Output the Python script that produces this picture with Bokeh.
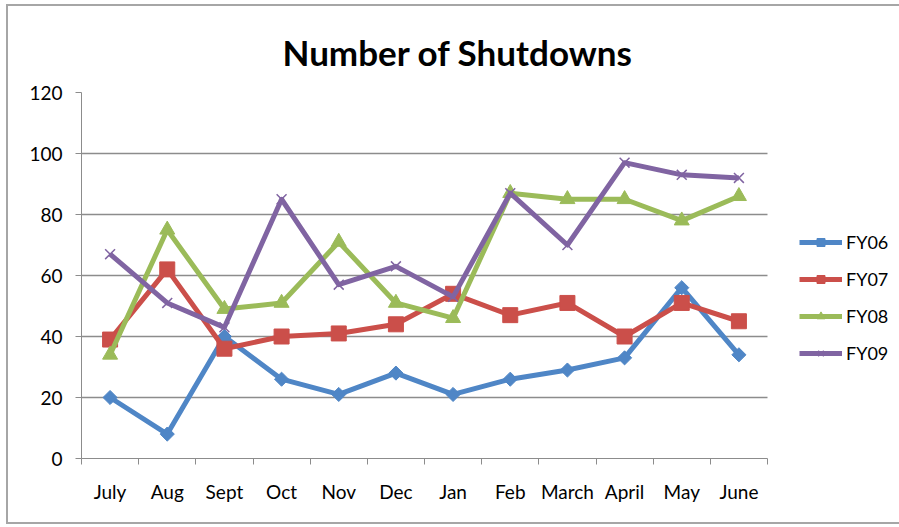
import math
from bokeh.plotting import figure
from bokeh.models import (Range1d, LinearAxis, FixedTicker, Legend,
                          LegendItem, Title, ColumnDataSource)
from bokeh.embed import file_html
from bokeh.resources import INLINE

months = ["July", "Aug", "Sept", "Oct", "Nov", "Dec", "Jan", "Feb", "March",
          "April", "May", "June"]
fy06 = [20, 8, 40, 26, 21, 28, 21, 26, 29, 33, 56, 34]
fy07 = [39, 62, 36, 40, 41, 44, 54, 47, 51, 40, 51, 45]
fy08 = [34, 75, 49, 51, 71, 51, 46, 87, 85, 85, 78, 86]
fy09 = [67, 51, 43, 85, 57, 63, 53, 87, 70, 97, 93, 92]
series_names = ["FY06", "FY07", "FY08", "FY09"]
y_ticks = [0, 20, 40, 60, 80, 100, 120]

FONT = "Lato"
GRID = "#8c8c8c"

n = len(months)
centers = [i + 0.5 for i in range(n)]
bounds = list(range(n + 1))

# plot area is 686px wide; the frame is extended to the right to hold the legend
PLOT_W = 686
FRAME_W = 817
x_end = n * FRAME_W / PLOT_W

src = ColumnDataSource(dict(x=centers, month=months, FY06=fy06, FY07=fy07,
                            FY08=fy08, FY09=fy09))

p = figure(frame_width=FRAME_W, frame_height=366, output_backend="svg",
           toolbar_location=None,
           x_range=Range1d(0, x_end), y_range=Range1d(0, 120),
           min_border_left=73, min_border_right=5, min_border_top=86,
           min_border_bottom=64, x_axis_location=None, y_axis_location=None)
p.outline_line_color = None
p.styles = {"border": "2px solid #a6a6a6", "margin-left": "6px", "margin-top": "4px"}

title = Title(text="Number of Shutdowns", align="left", offset=201,
              text_font=FONT, text_font_size="35px", text_font_style="bold",
              text_color="black", standoff=39)
p.add_layout(title, "above")

# y axis
yax = LinearAxis(ticker=FixedTicker(ticks=y_ticks))
yax.axis_line_color = GRID
yax.major_tick_line_color = GRID
yax.major_tick_out = 6
yax.major_tick_in = 0
yax.minor_tick_line_color = None
yax.major_label_text_font = FONT
yax.major_label_text_font_size = "19px"
yax.major_label_text_color = "black"
yax.major_label_standoff = 13
p.add_layout(yax, "left")

# x axis: labels at category centres, ticks at category boundaries
xax = LinearAxis(ticker=FixedTicker(ticks=centers, minor_ticks=bounds),
                 bounds=(0, n))
xax.major_label_overrides = {c: m for c, m in zip(centers, months)}
xax.axis_line_color = GRID
xax.major_tick_line_color = None
xax.major_tick_out = 6
xax.major_tick_in = 0
xax.minor_tick_line_color = GRID
xax.minor_tick_out = 6
xax.minor_tick_in = 0
xax.major_label_text_font = FONT
xax.major_label_text_font_size = "19px"
xax.major_label_text_color = "black"
xax.major_label_standoff = 15
p.add_layout(xax, "below")

p.xgrid.grid_line_color = None
p.ygrid.ticker = FixedTicker(ticks=y_ticks)
p.ygrid.grid_line_color = GRID
p.ygrid.grid_line_width = 1.3
p.ygrid.cross_bounds = (0, n)

colors = ["#4F86C6", "#CB4F4A", "#9BBB59", "#8064A2"]
markers = ["square", "square", "triangle", "x"]
angles = [math.pi / 4, 0, 0, 0]
sizes = [10, 15, 15, 14]

items = []
for name, c, m, a, s in zip(series_names, colors, markers, angles, sizes):
    ln = p.line("x", name, source=src, line_color=c, line_width=5,
                line_join="round")
    if m == "x":
        mk = p.scatter("x", name, source=src, marker="x", size=s, line_color=c,
                       line_width=1.5)
    else:
        mk = p.scatter("x", name, source=src, marker=m, size=s, angle=a,
                       fill_color=c, line_color=c)
    items.append(LegendItem(label=name, renderers=[ln, mk]))

legend = Legend(items=items, location=(718, 94), orientation="vertical")
legend.border_line_color = None
legend.background_fill_alpha = 0
legend.label_text_font = FONT
legend.label_text_font_size = "18px"
legend.label_text_color = "black"
legend.glyph_width = 43
legend.glyph_height = 20
legend.label_height = 20
legend.spacing = 15
legend.label_standoff = 4
legend.padding = 0
legend.margin = 0
p.add_layout(legend, "center")

open("out.html", "w").write(file_html(p, INLINE))
